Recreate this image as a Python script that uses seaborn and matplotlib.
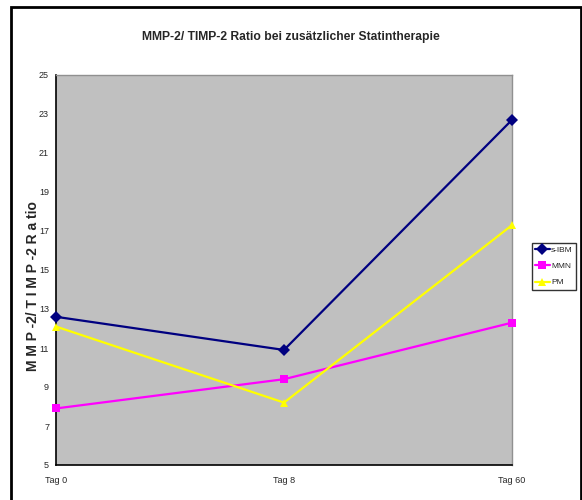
import matplotlib
matplotlib.use("Agg")
import matplotlib.pyplot as plt
import matplotlib.patches as mpatches
import seaborn as sns
import pandas as pd

# Measurement days and group values
days = ["Tag 0", "Tag 8", "Tag 60"]
s_ibm = [12.6, 10.9, 22.7]
mmn = [7.9, 9.4, 12.3]
pm = [12.1, 8.2, 17.3]
groups = ["s-IBM", "MMN", "PM"]
y_ticks = [5, 7, 9, 11, 13, 15, 17, 19, 21, 23, 25]

df = pd.DataFrame({
    "Tag": days * 3,
    "pos": [0, 1, 2] * 3,
    "Ratio": s_ibm + mmn + pm,
    "Gruppe": [g for g in groups for _ in days],
})

sns.set_theme(style="white")
plt.rcParams["font.family"] = ["Liberation Sans", "DejaVu Sans"]

fig = plt.figure(figsize=(5.82, 5.0), dpi=100)
ax = fig.add_axes([56 / 582, 0.07, (512 - 56) / 582, 0.78])
ax.set_facecolor("#C0C0C0")

palette = {"s-IBM": "#000080", "MMN": "#FF00FF", "PM": "#FFFF00"}
markers = {"s-IBM": "D", "MMN": "s", "PM": "^"}
sns.lineplot(data=df, x="pos", y="Ratio", hue="Gruppe", style="Gruppe",
             palette=palette, markers=markers, dashes=False,
             markersize=6, linewidth=1.6, markeredgewidth=0,
             ax=ax, legend=True)
for line in ax.lines:
    line.set_clip_on(False)
    line.set_zorder(5)

ax.set_xlim(0, 2)
ax.set_ylim(5, 25)
ax.set_xticks([0, 1, 2])
ax.set_xticklabels(days)
ax.set_yticks(y_ticks)
ax.tick_params(axis="both", labelsize=6.5, length=3, width=0.8, color="black",
               direction="out", pad=2)
ax.tick_params(axis="x", pad=6, length=4, direction="inout")

for side in ("top", "right"):
    ax.spines[side].set_color("#909090")
    ax.spines[side].set_linewidth(1)
for side in ("left", "bottom"):
    ax.spines[side].set_color("black")
    ax.spines[side].set_linewidth(1.2)

ax.set_xlabel("")
ax.set_ylabel("M M P -2/ T I M P -2 R a tio", fontsize=10, fontweight="bold")
ax.yaxis.set_label_coords(-0.035, 0.46)

fig.text(0.5 * (143 + 438) / 582, 1 - 37 / 500,
         "MMP-2/ TIMP-2 Ratio bei zusätzlicher Statintherapie",
         ha="center", va="center", fontsize=8.7, fontweight="bold")

leg = ax.legend(loc="upper left", bbox_to_anchor=(532 / 582, 1 - 243 / 500),
                bbox_transform=fig.transFigure, fontsize=6, frameon=True,
                fancybox=False, edgecolor="black", handlelength=1.7,
                handletextpad=0.2, borderpad=0.4, labelspacing=1.0,
                borderaxespad=0)
leg.get_frame().set_linewidth(1)

# Chart border
fig.patches.append(mpatches.Rectangle((11 / 582, -0.05), (581 - 11) / 582, 1.05 - 7 / 500,
                                      transform=fig.transFigure, fill=False,
                                      edgecolor="black", linewidth=2))

fig.savefig("out.png", dpi=100)
